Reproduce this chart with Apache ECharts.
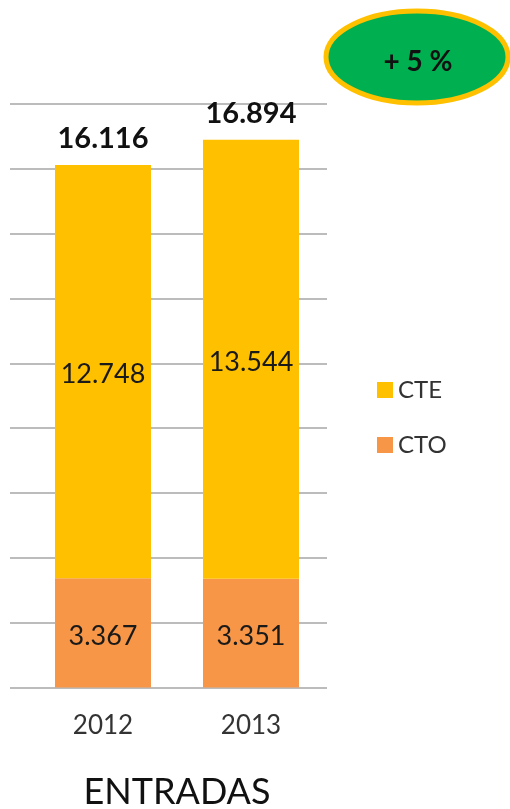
<!DOCTYPE html>
<html>
<head>
<meta charset="utf-8">
<script src="https://cdn.jsdelivr.net/npm/echarts@6/dist/echarts.min.js"></script>
<style>
html, body { margin: 0; padding: 0; background: #fff; }
#main { width: 510px; height: 809px; }
</style>
</head>
<body>
<div id="main"></div>
<script>
// datos
var years = ['2012', '2013'];
var cto = [3367, 3351];
var cte = [12748, 13544];
var totals = [16116, 16894];
var yTicks = [0, 2000, 4000, 6000, 8000, 10000, 12000, 14000, 16000, 18000];

var FONT = 'Lato';

// 12748 -> "12.748"
function fmt(v) {
	return String(v).replace(/\B(?=(\d{3})+(?!\d))/g, '.');
}

var myChart = echarts.init(document.getElementById('main'));

var option = {
	animation: false,
	color: ['#F79646', '#FFC000'],
	legend: {
		orient: 'vertical',
		left: 372,
		top: 373,
		itemWidth: 16,
		itemHeight: 16,
		itemGap: 31,
		icon: 'rect',
		data: ['CTE', 'CTO'],
		textStyle: { fontFamily: FONT, fontSize: 24, color: '#333' }
	},
	grid: [
		// solo lineas de fondo
		{ left: 10, right: 183, top: 104, bottom: 809 - 687.5, containLabel: false },
		// barras
		{ left: 29, right: 510 - 325, top: 104, bottom: 809 - 687.5, containLabel: false }
	],
	xAxis: [
		{ gridIndex: 0, type: 'category', data: years, show: false },
		{
			gridIndex: 1,
			type: 'category',
			data: years,
			axisLine: { show: false },
			axisTick: { show: false },
			axisLabel: { fontFamily: FONT, fontSize: 26, color: '#333', margin: 25 }
		}
	],
	yAxis: [
		{
			gridIndex: 0,
			type: 'value',
			min: yTicks[0],
			max: yTicks[yTicks.length - 1],
			interval: yTicks[1] - yTicks[0],
			axisLabel: { show: false },
			axisLine: { show: false },
			axisTick: { show: false },
			splitLine: { lineStyle: { color: '#A6A6A6', width: 1.5 } }
		},
		{
			gridIndex: 1,
			type: 'value',
			min: yTicks[0],
			max: yTicks[yTicks.length - 1],
			interval: yTicks[1] - yTicks[0],
			show: false
		}
	],
	series: [
		{
			name: 'CTO',
			type: 'bar',
			stack: 'e',
			xAxisIndex: 1,
			yAxisIndex: 1,
			barWidth: 96,
			data: cto,
			label: {
				show: true,
				position: 'inside',
				offset: [0, 3],
				formatter: function(p) { return fmt(p.value); },
				fontFamily: FONT,
				fontSize: 27,
				color: '#1a1a1a'
			}
		},
		{
			name: 'CTE',
			type: 'bar',
			stack: 'e',
			xAxisIndex: 1,
			yAxisIndex: 1,
			barWidth: 96,
			data: cte,
			label: {
				show: true,
				position: 'inside',
				offset: [0, 3],
				formatter: function(p) { return fmt(p.value); },
				fontFamily: FONT,
				fontSize: 27,
				color: '#1a1a1a'
			}
		},
		{
			// total encima
			name: 'total',
			type: 'bar',
			stack: 'e',
			xAxisIndex: 1,
			yAxisIndex: 1,
			barWidth: 96,
			data: [0, 0],
			itemStyle: { color: 'transparent' },
			label: {
				show: true,
				position: 'top',
				distance: 12,
				formatter: function(p) { return fmt(totals[p.dataIndex]); },
				fontFamily: FONT,
				fontWeight: 'bold',
				fontSize: 29,
				color: '#111'
			},
			tooltip: { show: false }
		}
	],
	graphic: [
		{
			type: 'ellipse',
			shape: { cx: 417, cy: 57, rx: 91, ry: 46 },
			style: { fill: '#00B050', stroke: '#FFC000', lineWidth: 5 }
		},
		{
			type: 'text',
			x: 418,
			y: 62,
			style: { text: '+ 5 %', fill: '#111', font: 'bold 28px ' + FONT, align: 'center', verticalAlign: 'middle' }
		},
		{
			type: 'text',
			x: 177,
			y: 792,
			style: { text: 'ENTRADAS', fill: '#111', font: '36px ' + FONT, align: 'center', verticalAlign: 'middle' }
		}
	]
};

myChart.setOption(option);
</script>
</body>
</html>
